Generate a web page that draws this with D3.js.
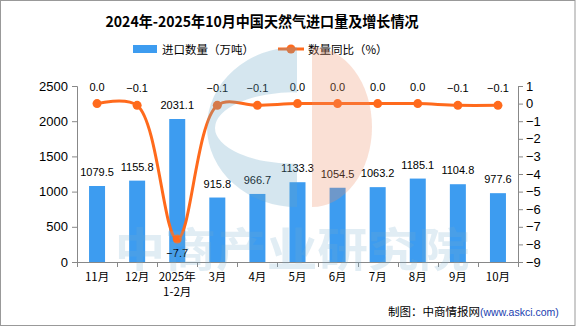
<!DOCTYPE html>
<html><head><meta charset="utf-8">
<script src="https://cdn.jsdelivr.net/npm/d3@7/dist/d3.min.js"></script>
<style>body{margin:0;background:#fff}svg{display:block}</style>
</head><body><svg id="c" width="576" height="327"></svg>
<script>
const categories = ["11月","12月","2025年\n1-2月","3月","4月","5月","6月","7月","8月","9月","10月"];
const volume = [1079.5,1155.8,2031.1,915.8,966.7,1133.3,1054.5,1063.2,1185.1,1104.8,977.6];
const growth = [0.0,-0.1,-7.7,-0.1,-0.1,0.0,0.0,0.0,0.0,-0.1,-0.1];
const leftTicks = [0,500,1000,1500,2000,2500];
const rightTicks = [1,0,-1,-2,-3,-4,-5,-6,-7,-8,-9];

const svg = d3.select("#c");
const W = 576, H = 327;
const m = {l:77, r:518, t:86, b:262};
const barColor = "#3d9cf0", lineColor = "#ff6a1c";
const font = "'Liberation Sans', Arial, sans-serif";
const cjk = "'Noto Sans CJK SC', sans-serif";

svg.append("rect").attr("x",0.5).attr("y",0.5).attr("width",W-1.5).attr("height",H-2)
  .attr("fill","#fff").attr("stroke","#999");

const x = d3.scaleBand().domain(categories).range([m.l,m.r]).paddingInner(0).paddingOuter(0);
const yL = d3.scaleLinear().domain([0,2500]).range([m.b,m.t]);
const yR = d3.scaleLinear().domain([-9,1]).range([m.b,m.t]);
const bw = 16;

// watermark (behind texts)
const wm = svg.append("g").attr("pointer-events","none");

// title
svg.append("text").attr("x",262).attr("y",27).attr("text-anchor","middle")
  .attr("font-family",cjk).attr("font-weight","bold").attr("font-size",15)
  .attr("textLength",313).attr("lengthAdjust","spacingAndGlyphs")
  .text("2024年-2025年10月中国天然气进口量及增长情况");

// legend
svg.append("rect").attr("x",133).attr("y",45).attr("width",24).attr("height",8).attr("fill",barColor);
svg.append("text").attr("x",162).attr("y",53.5).attr("font-family",cjk).attr("font-size",11.5).text("进口数量（万吨）");
svg.append("line").attr("x1",278).attr("x2",304).attr("y1",49).attr("y2",49).attr("stroke",lineColor).attr("stroke-width",3);
svg.append("circle").attr("cx",291).attr("cy",49).attr("r",4.5).attr("fill",lineColor);
svg.append("text").attr("x",308).attr("y",53.5).attr("font-family",cjk).attr("font-size",11.5).text("数量同比（%）");

// axes
const axisColor = "#888";
const gL = svg.append("g").attr("transform",`translate(${m.l},0)`)
  .call(d3.axisLeft(yL).tickValues(leftTicks).tickSize(5).tickPadding(4).tickFormat(d3.format("d")));
const gR = svg.append("g").attr("transform",`translate(${m.r},0)`)
  .call(d3.axisRight(yR).tickValues(rightTicks).tickSize(5).tickPadding(3).tickFormat(d=>d<0?"\u2212"+Math.abs(d):d));
[gL,gR].forEach(g=>{
  g.selectAll("path,line").attr("stroke",axisColor);
  g.selectAll("text").attr("font-family",font).attr("font-size",13).attr("fill","#000");
});
// bottom axis
const gB = svg.append("g");
gB.append("line").attr("x1",m.l).attr("x2",m.r).attr("y1",m.b+0.5).attr("y2",m.b+0.5).attr("stroke",axisColor);
gB.selectAll(".bt").data(categories.concat(["_end"])).enter().append("line")
  .attr("x1",(d,i)=>Math.round(m.l + i*x.bandwidth())+0.5).attr("x2",(d,i)=>Math.round(m.l + i*x.bandwidth())+0.5)
  .attr("y1",m.b).attr("y2",m.b+5).attr("stroke",axisColor);
gB.selectAll(".cl").data(categories).enter().append("text")
  .attr("text-anchor","middle").attr("font-family",cjk).attr("font-size",11.5)
  .attr("transform",d=>`translate(${x(d)+x.bandwidth()/2},281)`)
  .each(function(d){
    const t=d3.select(this);
    d.split("\n").forEach((s,i)=>t.append("tspan").attr("x",0).attr("dy",i?15:0).text(s));
  });

// bars
svg.selectAll(".bar").data(volume).enter().append("rect")
  .attr("x",(d,i)=>x(categories[i])+x.bandwidth()/2-bw/2).attr("width",bw)
  .attr("y",d=>yL(d)).attr("height",d=>m.b-yL(d)).attr("fill",barColor);
svg.selectAll(".bl").data(volume).enter().append("text")
  .attr("x",(d,i)=>x(categories[i])+x.bandwidth()/2).attr("y",d=>yL(d)-10)
  .attr("text-anchor","middle").attr("font-family",font).attr("font-size",11).text(d=>d.toFixed(1));

// line
const pts = growth.map((g,i)=>[x(categories[i])+x.bandwidth()/2, yR(g)]);
svg.append("path").attr("d",d3.line().curve(d3.curveCatmullRom.alpha(0.5))(pts))
  .attr("fill","none").attr("stroke",lineColor).attr("stroke-width",3);
svg.selectAll(".pt").data(pts).enter().append("circle")
  .attr("cx",d=>d[0]).attr("cy",d=>d[1]).attr("r",4.5).attr("fill",lineColor);
svg.selectAll(".gl").data(growth).enter().append("text")
  .attr("x",(d,i)=>pts[i][0]).attr("y",(d,i)=>d<-1?pts[i][1]+18:pts[i][1]-13)
  .attr("text-anchor","middle").attr("font-family",font).attr("font-size",11)
  .text(d=>(d<0?"\u2212":"")+Math.abs(d).toFixed(1));

// watermark drawn on top, translucent
const wm2 = svg.append("g").attr("pointer-events","none");
wm2.append("path").attr("fill","rgb(105,165,198)").attr("fill-opacity",0.28).attr("fill-rule","evenodd")
  .attr("d","M297,47 A90,80 0 0 0 297,207 Z M297,92 A82,36 0 0 0 297,164 Z");
wm2.append("path").attr("fill","rgb(238,145,105)").attr("fill-opacity",0.28)
  .attr("d","M312,47 A60,80 0 0 1 312,207 Z");
wm2.append("text").attr("x",292).attr("y",266).attr("text-anchor","middle")
  .attr("font-family",cjk).attr("font-weight","bold").attr("font-size",46)
  .attr("textLength",355).attr("lengthAdjust","spacingAndGlyphs")
  .attr("fill","rgb(120,175,205)").attr("fill-opacity",0.22).text("中商产业研究院");

// credit
const cr = svg.append("text").attr("x",388).attr("y",316).attr("font-family",cjk).attr("font-size",11.5);
cr.append("tspan").text("制图：中商情报网");
cr.append("tspan").attr("fill","#2040b0").attr("font-family",font).attr("font-size",10.5).text("(www.askci.com)");
</script></body></html>
